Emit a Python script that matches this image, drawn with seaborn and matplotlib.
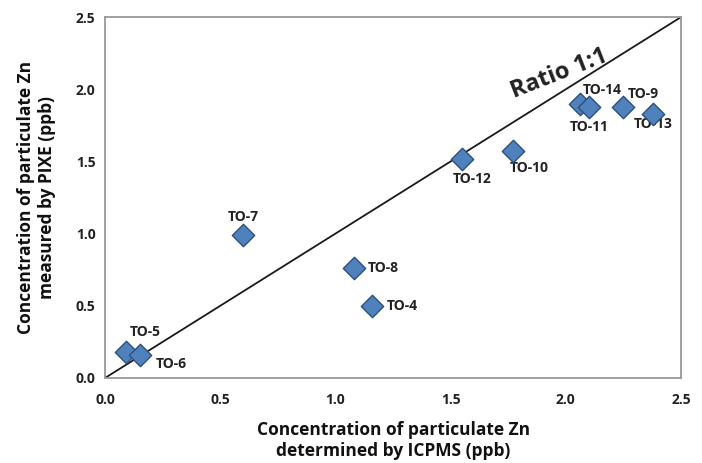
import seaborn as sns
import matplotlib.pyplot as plt
import pandas as pd

# sample names and Zn concentrations (ppb)
samples = ['TO-5', 'TO-6', 'TO-7', 'TO-8', 'TO-4', 'TO-12', 'TO-10',
           'TO-14', 'TO-11', 'TO-9', 'TO-13']
icpms = [0.09, 0.15, 0.60, 1.08, 1.16, 1.55, 1.77, 2.06, 2.10, 2.25, 2.38]
pixe = [0.18, 0.16, 0.99, 0.76, 0.50, 1.52, 1.57, 1.90, 1.88, 1.88, 1.83]
ticks = [0.0, 0.5, 1.0, 1.5, 2.0, 2.5]

df = pd.DataFrame({'sample': samples, 'icpms': icpms, 'pixe': pixe})

# label offsets in points (dx, dy, ha)
offsets = {
    'TO-5': (14, 14, 'center'), 'TO-6': (23, -7, 'center'),
    'TO-7': (0, 13, 'center'), 'TO-8': (10, 0, 'left'),
    'TO-4': (10, 0, 'left'), 'TO-12': (7, -15, 'center'),
    'TO-10': (12, -12, 'center'), 'TO-14': (16, 10, 'center'),
    'TO-11': (0, -15, 'center'), 'TO-9': (14, 9, 'center'),
    'TO-13': (0, -7, 'center'),
}

sns.set_style('white')
plt.rcParams['font.family'] = ['Open Sans', 'DejaVu Sans']

fig = plt.figure(figsize=(7.02, 4.63), dpi=100)
ax = fig.add_axes([0.150, 0.184, 0.820, 0.779])

ax.plot([0, 2.5], [0, 2.5], color='#1a1a1a', lw=1.3, zorder=2)

sns.scatterplot(data=df, x='icpms', y='pixe', marker='D', s=130,
                color='#4F81BD', edgecolor='#2F4F7F', linewidth=1.0,
                ax=ax, zorder=4)

for s, x, y in zip(samples, icpms, pixe):
    dx, dy, ha = offsets[s]
    ax.annotate(s, (x, y), xytext=(dx, dy), textcoords='offset points',
                ha=ha, va='center', fontsize=10, fontweight='bold',
                color='#222222', zorder=3)

ax.text(1.97, 2.11, 'Ratio 1:1', rotation=32, rotation_mode='anchor',
        ha='center', va='center', fontsize=17, fontweight='bold',
        color='#222222', transform_rotates_text=True)

ax.set_xlim(0, 2.5)
ax.set_ylim(0, 2.5)
ax.set_xticks(ticks)
ax.set_yticks(ticks)
ax.set_xticklabels([f'{t:.1f}' for t in ticks], fontweight='bold', fontsize=10)
ax.set_yticklabels([f'{t:.1f}' for t in ticks], fontweight='bold', fontsize=10)
ax.tick_params(axis='both', length=4, color='#999999', labelcolor='#222222',
               direction='out', pad=3)
ax.tick_params(axis='x', pad=7)
for sp in ax.spines.values():
    sp.set_color('#999999')
    sp.set_linewidth(1.3)

ax.set_xlabel('Concentration of particulate Zn\ndetermined by ICPMS (ppb)',
              fontsize=12.5, fontweight='bold', color='#111111', labelpad=10,
              linespacing=1.25)
ax.set_ylabel('Concentration of particulate Zn\nmeasured by PIXE (ppb)',
              fontsize=12.5, fontweight='bold', color='#111111', labelpad=14,
              linespacing=1.25)

fig.savefig('out.png', dpi=100)
